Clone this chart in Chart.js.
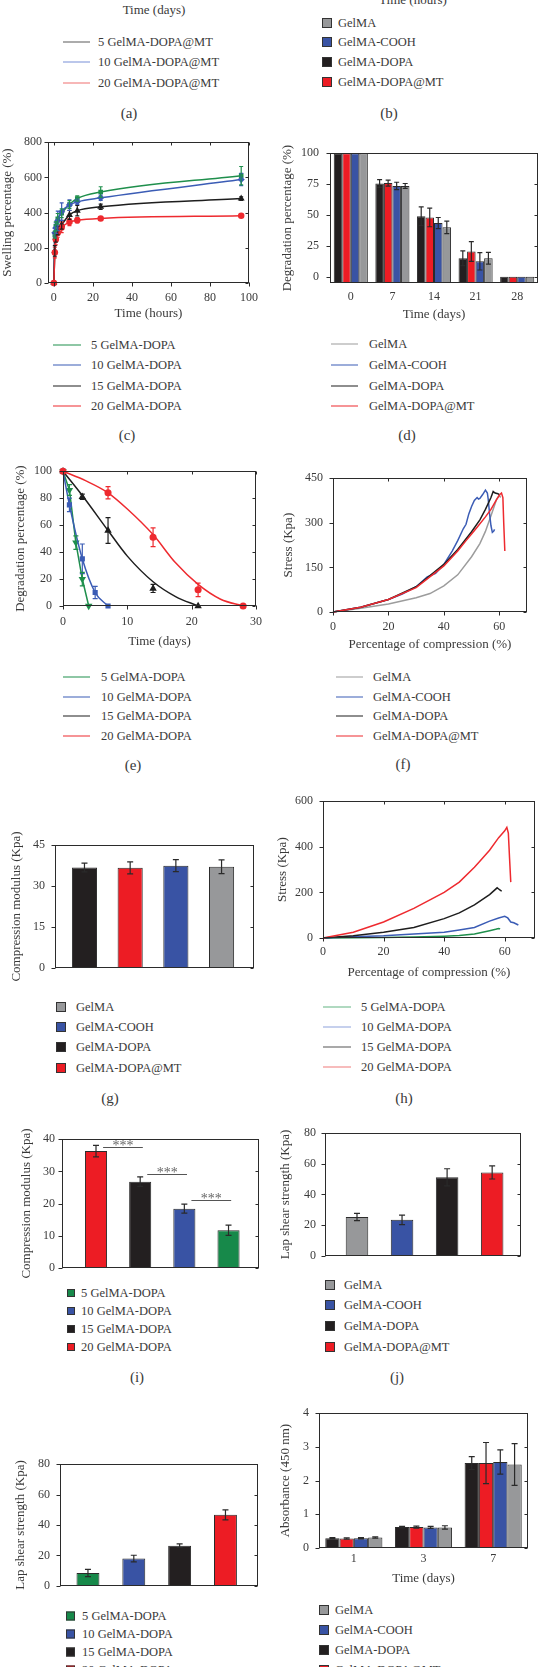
<!DOCTYPE html>
<html>
<head>
<meta charset="utf-8">
<script src="https://cdn.jsdelivr.net/npm/chart.js@4.4.1/dist/chart.umd.min.js"></script>
<style>
  body { margin: 0; background: #fff; }
  #page { position: relative; width: 540px; height: 1667px; overflow: hidden; background: #fff;
          font-family: "Liberation Serif", "DejaVu Serif", serif; color: #3a3a3a; }
  #page canvas { position: absolute; }
  .t { position: absolute; white-space: nowrap; font-size: 12.5px; line-height: 14px; transform: translate(0, -50%); }
  .t.c { transform: translate(-50%, -50%); }
  .sw { position: absolute; box-sizing: border-box; border: 1px solid #333; transform: translateY(-50%); }
  .ln { position: absolute; height: 0; transform: translateY(-50%); }
</style>
</head>
<body>
<div id="page"></div>
<script>
// ---- labels ----
const legendA = ['5 GelMA-DOPA@MT', '10 GelMA-DOPA@MT', '20 GelMA-DOPA@MT'];
const groups = ['GelMA', 'GelMA-COOH', 'GelMA-DOPA', 'GelMA-DOPA@MT'];
const conc = ['5 GelMA-DOPA', '10 GelMA-DOPA', '15 GelMA-DOPA', '20 GelMA-DOPA'];

// ---- (c) swelling vs time ----
const swellHours = [0, 0.5, 1, 2, 4, 8, 12, 24, 96];
const swell5  = [0, 275, 322, 365, 396, 446, 480, 517, 610];
const swell10 = [0, 285, 312, 353, 405, 443, 461, 484, 588];
const swell15 = [0, 182, 257, 298, 331, 387, 411, 433, 480];
const swell20 = [0, 173, 247, 285, 316, 346, 356, 367, 382];
const swell5Err  = [0, 20, 25, 30, 25, 22, 15, 30, 52];
const swell10Err = [0, 25, 30, 55, 50, 30, 15, 15, 35];
const swell15Err = [0, 30, 25, 25, 25, 25, 30, 15, 10];
const swell20Err = [0, 30, 30, 25, 30, 20, 15, 8, 8];
const swellXTicks = [0, 20, 40, 60, 80, 100];
const swellYTicks = [0, 200, 400, 600, 800];

// ---- (d) degradation bars ----
const degDays = ['0', '7', '14', '21', '28'];
const degDopa  = [100, 75.5, 49, 15, 0];
const degMT    = [100, 75.8, 48, 20.5, 0];
const degCooh  = [100, 73.5, 43.5, 12.5, 0];
const degGelma = [100, 73.5, 40, 15, 0];
const degDopaErr  = [0, 3.2, 7.5, 6, 0];
const degMTErr    = [0, 2.5, 7.5, 8, 0];
const degCoohErr  = [0, 3, 4.5, 7, 0];
const degGelmaErr = [0, 2, 5, 4.8, 0];
const degYTicks = [0, 25, 50, 75, 100];

// ---- (e) degradation of DOPA concentrations ----
const deg5Days  = [0, 1, 2, 3, 4];
const deg5      = [100, 86, 47, 20, 0];
const deg5Err   = [0, 4, 5, 5, 0];
const deg10Days = [0, 1, 3, 5, 7];
const deg10     = [100, 75, 35, 10, 0];
const deg10Err  = [0, 5, 11, 4.5, 0];
const deg15Days = [0, 3, 7, 14, 21];
const deg15     = [100, 81, 56, 13, 0];
const deg15Err  = [0, 2, 9.5, 3, 0];
const deg20Days = [0, 7, 14, 21, 28];
const deg20     = [100, 84, 51, 12, 0];
const deg20Err  = [0, 4.5, 7, 5, 0];
const fit15Days = [0, 3, 7, 10, 14, 17.5, 21];
const fit15     = [100, 82, 56, 37, 18, 7, 0];
const fit20Days = [0, 3.5, 7, 10, 14, 17.5, 21, 24.5, 28];
const fit20     = [100, 93, 84, 72, 53, 32, 16, 5, 0];
const degEXTicks = [0, 10, 20, 30];
const degEYTicks = [0, 20, 40, 60, 80, 100];

// ---- (f) stress-strain, four groups ----
const fStrainGelma = [0, 5, 10, 20, 30, 35, 40, 45, 50, 53, 55, 57, 59, 60, 60.5];
const fStressGelma = [0, 6, 13, 27, 48, 62, 88, 125, 186, 230, 271, 324, 378, 392, 385];
const fStrainCooh = [0, 10, 20, 25, 30, 34, 35, 37, 40, 43, 45, 47, 48, 49, 50, 51, 52, 52.5, 53, 54, 55, 55.7, 56, 56.5, 57, 57.5, 58, 58.3];
const fStressCooh = [0, 16, 42, 60, 85, 118, 122, 130, 160, 205, 240, 280, 295, 330, 355, 375, 385, 380, 382, 395, 410, 400, 380, 330, 290, 268, 272, 278];
const fStrainDopa = [0, 10, 20, 30, 40, 45, 50, 53, 55, 57, 57.8, 58.5, 59.5, 60];
const fStressDopa = [0, 16, 42, 85, 160, 210, 270, 310, 345, 385, 405, 400, 398, 395];
const fStrainMT = [0, 10, 20, 30, 40, 45, 48, 50, 52, 55, 57, 59, 60.2, 60.8, 61.3, 61.6, 62];
const fStressMT = [0, 16, 42, 82, 155, 205, 240, 262, 285, 320, 345, 378, 395, 400, 385, 300, 205];
const fXTicks = [0, 20, 40, 60];
const fYTicks = [0, 150, 300, 450];

// ---- (g) compression modulus, four groups ----
const barPos = [1, 2, 3, 4];
const gModulus = [36.8, 36.7, 37.5, 37.1];   // DOPA, DOPA@MT, COOH, GelMA
const gModulusErr = [1.6, 2.2, 2.2, 2.5];
const gYTicks = [0, 15, 30, 45];

// ---- (h) stress-strain, DOPA concentrations ----
const hStrain5  = [0, 10, 20, 30, 40, 45, 50, 55, 57, 58, 58.5];
const hStress5  = [0, 1, 2, 4, 8, 11, 18, 32, 38, 42, 40];
const hStrain10 = [0, 10, 20, 30, 40, 45, 50, 55, 58, 60, 61, 62, 63, 64.5];
const hStress10 = [0, 5, 10, 18, 25, 35, 46, 74, 88, 95, 88, 70, 67, 57];
const hStrain15 = [0, 10, 20, 30, 40, 45, 50, 55, 57.5, 58, 58.5, 59];
const hStress15 = [0, 10, 25, 46, 85, 110, 145, 190, 220, 215, 210, 205];
const hStrain20 = [0, 10, 20, 30, 40, 45, 50, 52, 55, 58, 60, 60.7, 61.2, 61.6, 62];
const hStress20 = [0, 25, 70, 130, 200, 245, 310, 340, 385, 440, 470, 485, 460, 350, 245];
const hXTicks = [0, 20, 40, 60];
const hYTicks = [0, 200, 400, 600];

// ---- (i) compression modulus, DOPA concentrations ----
const iModulus = [36.3, 26.8, 18.4, 11.7];   // 20, 15, 10, 5
const iModulusErr = [1.8, 1.5, 1.4, 1.6];
const iSigLevels = [37.7, 29.1, 21.0];
const iYTicks = [0, 10, 20, 30, 40];

// ---- (j) lap shear, four groups ----
const jShear = [25.3, 23.5, 51.2, 54.4];     // GelMA, COOH, DOPA, DOPA@MT
const jShearErr = [2.4, 3.1, 5.6, 4.3];
const jYTicks = [0, 20, 40, 60, 80];

// ---- (k) lap shear, DOPA concentrations ----
const kShear = [8.4, 17.9, 26.4, 46.7];      // 5, 10, 15, 20
const kShearErr = [2.4, 2.2, 1.2, 3.3];
const kYTicks = [0, 20, 40, 60, 80];

// ---- (l) absorbance (CCK-8) ----
const cckDays = ['1', '3', '7'];
const cckDopa  = [0.29, 0.62, 2.52];
const cckMT    = [0.28, 0.62, 2.52];
const cckCooh  = [0.29, 0.61, 2.55];
const cckGelma = [0.31, 0.61, 2.48];
const cckDopaErr  = [0.02, 0.02, 0.19];
const cckMTErr    = [0.02, 0.03, 0.61];
const cckCoohErr  = [0.02, 0.03, 0.36];
const cckGelmaErr = [0.02, 0.05, 0.62];
const cckYTicks = [0, 1, 2, 3, 4];

// ---------------------------------------------------------------
const SERIF = '"Liberation Serif", "DejaVu Serif", serif';
const TXT = '#3a3a3a';
const INK = '#2b2b2b';
const COL = { gray: '#97989a', blue: '#3953a4', black: '#231f20', red: '#ed1c24', green: '#17894a' };
const LINE = { gray: '#9c9c9c', blue: '#3b5cb5', black: '#1e1e1e', red: '#ee2a2f', green: '#1f8f4c' };
Chart.defaults.font.family = SERIF;
Chart.defaults.color = TXT;

const page = document.getElementById('page');

function text(str, x, y, size, center) {
    const d = document.createElement('div');
    d.className = 't' + (center ? ' c' : '');
    d.textContent = str;
    d.style.left = x + 'px';
    d.style.top = y + 'px';
    if (size) d.style.fontSize = size + 'px';
    page.appendChild(d);
}

function lineKey(names, colors, x0, x1, xt, ys) {
    names.forEach((n, i) => {
        const l = document.createElement('div');
        l.className = 'ln';
        l.style.left = x0 + 'px';
        l.style.width = (x1 - x0) + 'px';
        l.style.top = ys[i] + 'px';
        l.style.borderTop = '1.6px solid ' + colors[i];
        page.appendChild(l);
        text(n, xt, ys[i]);
    });
}

function boxKey(names, colors, x, size, xt, ys) {
    names.forEach((n, i) => {
        const b = document.createElement('div');
        b.className = 'sw';
        b.style.left = x + 'px';
        b.style.top = ys[i] + 'px';
        b.style.width = size + 'px';
        b.style.height = size + 'px';
        b.style.background = colors[i];
        page.appendChild(b);
        text(n, xt, ys[i]);
    });
}

function series(xs, ys) {
    return xs.map((x, i) => ({ x: x, y: ys[i] }));
}

// box around the plot area, with outward ticks on the left and bottom
const frame = {
    id: 'frame',
    afterDraw(chart) {
        const { ctx, chartArea: a } = chart;
        const L = Math.round(a.left) + 0.5, T = Math.round(a.top) + 0.5;
        const R = Math.round(a.right) - 0.5, B = Math.round(a.bottom) - 0.5;
        ctx.save();
        ctx.strokeStyle = INK;
        ctx.lineWidth = 1;
        ctx.strokeRect(L, T, R - L, B - T);
        ctx.beginPath();
        const xs = chart.scales.x, ys = chart.scales.y;
        if (xs.type === 'linear' && xs.options.ticks.display) {
            xs.ticks.forEach(t => {
                const p = Math.round(xs.getPixelForValue(t.value)) + 0.5;
                ctx.moveTo(p, B); ctx.lineTo(p, B + 4);
                ctx.moveTo(p, T); ctx.lineTo(p, T + 3);
            });
        }
        ys.ticks.forEach(t => {
            const p = Math.round(ys.getPixelForValue(t.value)) + 0.5;
            ctx.moveTo(L, p); ctx.lineTo(L - 4, p);
            ctx.moveTo(R, p); ctx.lineTo(R - 3, p);
        });
        ctx.stroke();
        ctx.restore();
    }
};

// vertical error bars from each dataset's "errors" array
const errBars = {
    id: 'errBars',
    afterDatasetsDraw(chart) {
        const { ctx } = chart;
        const ys = chart.scales.y;
        chart.data.datasets.forEach((ds, i) => {
            if (!ds.errors) return;
            const meta = chart.getDatasetMeta(i);
            ctx.save();
            ctx.strokeStyle = ds.errorColor || '#2a2a2a';
            ctx.lineWidth = 1.2;
            meta.data.forEach((el, j) => {
                const e = ds.errors[j];
                if (!e) return;
                const raw = ds.data[j];
                const v = typeof raw === 'object' ? raw.y : raw;
                const y1 = ys.getPixelForValue(v + e), y2 = ys.getPixelForValue(v - e);
                const cap = ds.errorCap || 3;
                ctx.beginPath();
                ctx.moveTo(el.x, y1); ctx.lineTo(el.x, y2);
                ctx.moveTo(el.x - cap, y1); ctx.lineTo(el.x + cap, y1);
                ctx.moveTo(el.x - cap, y2); ctx.lineTo(el.x + cap, y2);
                ctx.stroke();
            });
            ctx.restore();
        });
    }
};

function valAxis(min, max, ticks, pad, title) {
    return {
        type: 'linear', min: min, max: max,
        afterBuildTicks: s => { s.ticks = ticks.map(v => ({ value: v })); },
        grid: { display: false, drawTicks: false },
        border: { display: false },
        ticks: { padding: pad, color: TXT, font: { family: SERIF, size: 12 }, autoSkip: false, maxRotation: 0 },
        title: title ? { display: true, text: title, color: TXT, font: { family: SERIF, size: 13 }, padding: 0 } : { display: false }
    };
}

function catAxis(pad, title) {
    return {
        type: 'category', offset: true,
        grid: { display: false, drawTicks: false },
        border: { display: false },
        ticks: { padding: pad, color: TXT, font: { family: SERIF, size: 12 }, autoSkip: false, maxRotation: 0 },
        title: { display: true, text: title, color: TXT, font: { family: SERIF, size: 13 }, padding: 0 }
    };
}

// bar position axis without labels; the bar defaults would add an offset, switch it off
function hiddenX(min, max) {
    return {
        type: 'linear', min: min, max: max, offset: false,
        afterBuildTicks: s => { s.ticks = barPos.map(v => ({ value: v })); },
        grid: { display: false, drawTicks: false, offset: false },
        border: { display: false },
        ticks: { display: false },
        title: { display: false }
    };
}

// box: plot area l/r/t/b in page pixels, padL = room for y axis, padB = room for x axis
function makeChart(box, config) {
    const padT = 10, padR = box.padR || 14;
    const cv = document.createElement('canvas');
    const w = box.r - box.l + box.padL + padR;
    const h = box.b - box.t + padT + box.padB;
    cv.width = w;
    cv.height = h;
    cv.style.left = (box.l - box.padL) + 'px';
    cv.style.top = (box.t - padT) + 'px';
    cv.style.width = w + 'px';
    cv.style.height = h + 'px';
    page.appendChild(cv);
    config.options = Object.assign({
        responsive: false,
        animation: false,
        devicePixelRatio: 1,
        layout: { padding: { top: padT, right: padR, left: 0, bottom: 0 } },
        plugins: { legend: { display: false }, tooltip: { enabled: false } }
    }, config.options);
    config.options.scales.x.afterFit = s => { s.height = box.padB; };
    config.options.scales.y.afterFit = s => { s.width = box.padL; };
    config.plugins = [errBars, frame].concat(config.plugins || []);
    return new Chart(cv, config);
}

function lineSet(xs, ys, color, extra) {
    return Object.assign({
        data: series(xs, ys), borderColor: color, backgroundColor: color,
        borderWidth: 1.5, showLine: true, pointRadius: 0, clip: false
    }, extra || {});
}

// ---------------- top strip: (a), (b) ----------------
text('Time (days)', 154, 10, 13, true);
text('Time (hours)', 413, 0, 13, true);
lineKey(legendA, ['#5a5a5a', '#7890d8', '#f07070'], 63, 90, 98, [42, 62, 83]);
text('(a)', 129, 113, 15, true);
boxKey(groups, [COL.gray, COL.blue, COL.black, COL.red], 322, 10, 338, [23, 42, 62, 82]);
text('(b)', 389, 113, 15, true);

// ---------------- (c) ----------------
makeChart({ l: 48, r: 252, t: 139, b: 283, padL: 48, padB: 38 }, {
    type: 'scatter',
    data: {
        datasets: [
            lineSet(swellHours, swell20, LINE.red, { cubicInterpolationMode: 'monotone', pointRadius: 2.5, pointStyle: 'circle', errors: swell20Err, errorColor: LINE.red, errorCap: 2 }),
            lineSet(swellHours, swell15, LINE.black, { cubicInterpolationMode: 'monotone', pointRadius: 2.5, pointStyle: 'triangle', errors: swell15Err, errorColor: LINE.black, errorCap: 2 }),
            lineSet(swellHours, swell10, LINE.blue, { cubicInterpolationMode: 'monotone', pointRadius: 2.5, pointStyle: 'rectRot', errors: swell10Err, errorColor: LINE.blue, errorCap: 2 }),
            lineSet(swellHours, swell5, LINE.green, { cubicInterpolationMode: 'monotone', pointRadius: 2.2, pointStyle: 'rect', errors: swell5Err, errorColor: LINE.green, errorCap: 2 })
        ]
    },
    options: {
        scales: {
            x: valAxis(-3, 100, swellXTicks, 8, 'Time (hours)'),
            y: valAxis(0, 800, swellYTicks, 6, 'Swelling percentage (%)')
        }
    }
});
lineKey(conc, [LINE.green, LINE.blue, LINE.black, LINE.red], 53, 81, 91, [345, 365, 386, 406]);
text('(c)', 127, 435, 15, true);

// ---------------- (d) ----------------
function degBar(vals, errs, color) {
    return { data: vals, errors: errs, backgroundColor: color, borderColor: INK, borderWidth: 1, base: -5, errorCap: 2.5 };
}
makeChart({ l: 330, r: 538, t: 145, b: 283, padL: 50, padB: 39 }, {
    type: 'bar',
    data: {
        labels: degDays,
        datasets: [
            degBar(degDopa, degDopaErr, COL.black),
            degBar(degMT, degMTErr, COL.red),
            degBar(degCooh, degCoohErr, COL.blue),
            degBar(degGelma, degGelmaErr, COL.gray)
        ]
    },
    options: {
        datasets: { bar: { categoryPercentage: 0.82, barPercentage: 1 } },
        scales: {
            x: catAxis(7, 'Time (days)'),
            y: valAxis(-5, 100, degYTicks, 11, 'Degradation percentage (%)')
        }
    }
});
lineKey(groups, [LINE.gray, LINE.blue, LINE.black, LINE.red], 331, 358, 369, [344, 365, 386, 406]);
text('(d)', 407, 435, 15, true);

// ---------------- (e) ----------------
makeChart({ l: 63, r: 257, t: 463, b: 606, padL: 50, padB: 43 }, {
    type: 'scatter',
    data: {
        datasets: [
            lineSet(deg20Days, deg20, LINE.red, { showLine: false, pointRadius: 2.8, pointStyle: 'circle', errors: deg20Err, errorColor: LINE.red, errorCap: 2.5 }),
            lineSet(fit20Days, fit20, LINE.red, { cubicInterpolationMode: 'monotone' }),
            lineSet(deg15Days, deg15, LINE.black, { showLine: false, pointRadius: 2.8, pointStyle: 'triangle', errors: deg15Err, errorColor: LINE.black, errorCap: 2.5 }),
            lineSet(fit15Days, fit15, LINE.black, { cubicInterpolationMode: 'monotone' }),
            lineSet(deg10Days, deg10, LINE.blue, { cubicInterpolationMode: 'monotone', pointRadius: 2.6, pointStyle: 'rect', errors: deg10Err, errorColor: LINE.blue, errorCap: 2.5 }),
            lineSet(deg5Days, deg5, LINE.green, { pointRadius: 2.8, pointStyle: 'triangle', rotation: 180, errors: deg5Err, errorColor: LINE.green, errorCap: 2.5 })
        ]
    },
    options: {
        scales: {
            x: valAxis(0, 30, degEXTicks, 9, 'Time (days)'),
            y: valAxis(0, 100, degEYTicks, 11, 'Degradation percentage (%)')
        }
    }
});
lineKey(conc, [LINE.green, LINE.blue, LINE.black, LINE.red], 63, 90, 101, [677, 697, 716, 736]);
text('(e)', 133, 765, 15, true);

// ---------------- (f) ----------------
makeChart({ l: 333, r: 527, t: 471, b: 612, padL: 52, padB: 40 }, {
    type: 'scatter',
    data: {
        datasets: [
            lineSet(fStrainMT, fStressMT, LINE.red),
            lineSet(fStrainDopa, fStressDopa, LINE.black),
            lineSet(fStrainCooh, fStressCooh, LINE.blue),
            lineSet(fStrainGelma, fStressGelma, LINE.gray)
        ]
    },
    options: {
        scales: {
            x: valAxis(0, 70, fXTicks, 8, 'Percentage of compression (%)'),
            y: valAxis(0, 450, fYTicks, 10, 'Stress (Kpa)')
        }
    }
});
lineKey(groups, [LINE.gray, LINE.blue, LINE.black, LINE.red], 336, 363, 373, [677, 697, 716, 736]);
text('(f)', 403, 764, 15, true);

// ---------------- (g) ----------------
makeChart({ l: 55, r: 254, t: 838, b: 981, padL: 46, padB: 4 }, {
    type: 'bar',
    data: {
        datasets: [{
            data: series(barPos, gModulus), errors: gModulusErr, errorCap: 3,
            backgroundColor: [COL.black, COL.red, COL.blue, COL.gray],
            borderColor: INK, borderWidth: 1, barPercentage: 0.55, categoryPercentage: 1
        }]
    },
    options: {
        scales: {
            x: hiddenX(0.355, 4.71),
            y: valAxis(0, 45, gYTicks, 10, 'Compression modulus (Kpa)')
        }
    }
});
boxKey(groups, [COL.gray, COL.blue, COL.black, COL.red], 56, 10, 76, [1007, 1027, 1047, 1068]);
text('(g)', 110, 1098, 15, true);

// ---------------- (h) ----------------
makeChart({ l: 323, r: 535, t: 794, b: 938, padL: 48, padB: 42 }, {
    type: 'scatter',
    data: {
        datasets: [
            lineSet(hStrain20, hStress20, LINE.red),
            lineSet(hStrain15, hStress15, LINE.black),
            lineSet(hStrain10, hStress10, LINE.blue),
            lineSet(hStrain5, hStress5, LINE.green)
        ]
    },
    options: {
        scales: {
            x: valAxis(0, 70, hXTicks, 7, 'Percentage of compression (%)'),
            y: valAxis(0, 600, hYTicks, 10, 'Stress (Kpa)')
        }
    }
});
lineKey(conc, ['#62b381', '#8da2dc', '#555555', '#f07a7a'], 323, 351, 361, [1007, 1027, 1047, 1067]);
text('(h)', 404, 1098, 15, true);

// ---------------- (i) ----------------
const sigMarks = {
    id: 'sigMarks',
    afterDatasetsDraw(chart) {
        const { ctx } = chart;
        const xs = chart.scales.x, ys = chart.scales.y;
        ctx.save();
        ctx.strokeStyle = '#555';
        ctx.fillStyle = '#666';
        ctx.lineWidth = 1;
        ctx.font = '14px ' + SERIF;
        ctx.textAlign = 'center';
        ctx.textBaseline = 'middle';
        iSigLevels.forEach((lv, k) => {
            const x1 = xs.getPixelForValue(barPos[k] + 0.16);
            const x2 = xs.getPixelForValue(barPos[k + 1] + 0.06);
            const yy = Math.round(ys.getPixelForValue(lv)) + 0.5;
            ctx.beginPath();
            ctx.moveTo(x1, yy); ctx.lineTo(x2, yy);
            ctx.stroke();
            ctx.fillText('***', (x1 + x2) / 2, yy - 1);
        });
        ctx.restore();
    }
};
makeChart({ l: 62, r: 259, t: 1135, b: 1278, padL: 43, padB: 4 }, {
    type: 'bar',
    data: {
        datasets: [{
            data: series(barPos, iModulus), errors: iModulusErr, errorCap: 3,
            backgroundColor: [COL.red, COL.black, COL.blue, COL.green],
            borderColor: INK, borderWidth: 1, barPercentage: 0.5, categoryPercentage: 1
        }]
    },
    options: {
        scales: {
            x: hiddenX(0.23, 4.69),
            y: valAxis(0, 40, iYTicks, 7, 'Compression modulus (Kpa)')
        }
    },
    plugins: [sigMarks]
});
boxKey(conc, [COL.green, COL.blue, COL.black, COL.red], 67, 8, 81, [1293, 1311, 1329, 1347]);
text('(i)', 137, 1377, 15, true);

// ---------------- (j) ----------------
makeChart({ l: 325, r: 521, t: 1127, b: 1268, padL: 47, padB: 4 }, {
    type: 'bar',
    data: {
        datasets: [{
            data: series(barPos, jShear), errors: jShearErr, errorCap: 3,
            backgroundColor: [COL.gray, COL.blue, COL.black, COL.red],
            borderColor: INK, borderWidth: 1, barPercentage: 0.5, categoryPercentage: 1
        }]
    },
    options: {
        scales: {
            x: hiddenX(0.29, 4.64),
            y: valAxis(0, 80, jYTicks, 9, 'Lap shear strength (Kpa)')
        }
    }
});
boxKey(groups, [COL.gray, COL.blue, COL.black, COL.red], 325, 10, 344, [1285, 1305, 1326, 1347]);
text('(j)', 397, 1377, 15, true);

// ---------------- (k) ----------------
makeChart({ l: 60, r: 258, t: 1457, b: 1599, padL: 47, padB: 4 }, {
    type: 'bar',
    data: {
        datasets: [{
            data: series(barPos, kShear), errors: kShearErr, errorCap: 3,
            backgroundColor: [COL.green, COL.blue, COL.black, COL.red],
            borderColor: INK, borderWidth: 1, barPercentage: 0.5, categoryPercentage: 1
        }]
    },
    options: {
        scales: {
            x: hiddenX(0.39, 4.71),
            y: valAxis(0, 80, kYTicks, 10, 'Lap shear strength (Kpa)')
        }
    }
});
boxKey(conc, [COL.green, COL.blue, COL.black, COL.red], 66, 9, 82, [1616, 1634, 1652, 1670]);

// ---------------- (l) ----------------
function cckBar(vals, errs, color) {
    return { data: vals, errors: errs, backgroundColor: color, borderColor: INK, borderWidth: 1, errorCap: 3 };
}
makeChart({ l: 319, r: 528, t: 1406, b: 1548, padL: 41, padB: 38 }, {
    type: 'bar',
    data: {
        labels: cckDays,
        datasets: [
            cckBar(cckDopa, cckDopaErr, COL.black),
            cckBar(cckMT, cckMTErr, COL.red),
            cckBar(cckCooh, cckCoohErr, COL.blue),
            cckBar(cckGelma, cckGelmaErr, COL.gray)
        ]
    },
    options: {
        datasets: { bar: { categoryPercentage: 0.82, barPercentage: 1 } },
        scales: {
            x: catAxis(4, 'Time (days)'),
            y: valAxis(0, 4, cckYTicks, 10, 'Absorbance (450 nm)')
        }
    }
});
boxKey(groups, [COL.gray, COL.blue, COL.black, COL.red], 319, 10, 335, [1610, 1630, 1650, 1670]);
</script>
</body>
</html>
